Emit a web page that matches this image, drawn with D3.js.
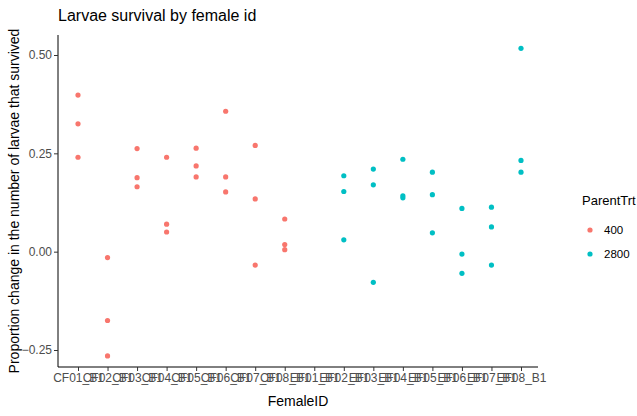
<!DOCTYPE html>
<html><head><meta charset="utf-8">
<script src="https://cdn.jsdelivr.net/npm/d3@7"></script>
<style>body{margin:0;background:#fff}text{font-family:Arial,"Liberation Sans",sans-serif}</style>
</head><body><div id="chart"></div>
<script>
const females = ["CF01_B1","CF02_B1","CF03_B1","CF04_B1","CF05_B1","CF06_B1","CF07_B1","CF08_B1",
                 "EF01_B1","EF02_B1","EF03_B1","EF04_B1","EF05_B1","EF06_B1","EF07_B1","EF08_B1"];
// survival values per female (EF01 has none)
const survival = [
  [0.398,0.325,0.240],[-0.015,-0.175,-0.265],[0.262,0.188,0.165],[0.240,0.070,0.050],
  [0.263,0.218,0.190],[0.357,0.190,0.152],[0.270,0.134,-0.034],[0.083,0.018,0.005],
  [],[0.193,0.153,0.030],[0.210,0.170,-0.078],[0.235,0.142,0.137],
  [0.202,0.145,0.048],[0.110,-0.006,-0.055],[0.113,0.063,-0.034],[0.517,0.232,0.202]
];
const treatments = ["400","2800"];
const trtColors = ["#F8766D","#00BFC4"];
const yTicks = [-0.25,0,0.25,0.5];

const W = 637, H = 416;
const m = {left:58, right:99, top:35, bottom:49};
const svg = d3.select("#chart").append("svg").attr("width",W).attr("height",H);

const x = d3.scalePoint().domain(females).range([78,521]);
const y = d3.scaleLinear().domain([-0.25,0.5]).range([350,55]);

const data = survival.flatMap((vals,i) => vals.map(v => ({id:females[i], v, trt: females[i][0]==="C" ? "400" : "2800"})));
const color = d3.scaleOrdinal().domain(treatments).range(trtColors);

const gx = svg.append("g").attr("transform",`translate(0,${H-m.bottom})`)
  .call(d3.axisBottom(x).tickSize(4).tickPadding(2));
gx.select(".domain").attr("d",`M${m.left},0H${W-m.right}`);
const gy = svg.append("g").attr("transform",`translate(${m.left},0)`)
  .call(d3.axisLeft(y).tickValues(yTicks).tickFormat(d3.format(".2f")).tickSize(4).tickPadding(2));
gy.select(".domain").attr("d",`M0,${m.top}V${H-m.bottom}`);
svg.selectAll(".tick text").attr("fill","#4d4d4d").style("font-size","12px");
svg.selectAll(".tick line").attr("stroke","#333");

svg.append("g").selectAll("circle").data(data).join("circle")
  .attr("cx",d=>x(d.id)).attr("cy",d=>y(d.v)).attr("r",2.6).attr("fill",d=>color(d.trt));

svg.append("text").attr("x",58).attr("y",21).style("font-size","16px").text("Larvae survival by female id");
svg.append("text").attr("x",(m.left+W-m.right)/2).attr("y",406).attr("text-anchor","middle").style("font-size","14px").text("FemaleID");
svg.append("text").attr("transform",`translate(19,${(m.top+H-m.bottom)/2}) rotate(-90)`).attr("text-anchor","middle").style("font-size","14px").text("Proportion change in the number of larvae that survived");

const lg = svg.append("g").attr("transform","translate(582,0)");
lg.append("text").attr("x",0).attr("y",205).style("font-size","13px").text("ParentTrt");
treatments.forEach((t,i) => {
  lg.append("circle").attr("cx",8).attr("cy",230+i*24).attr("r",2.6).attr("fill",color(t));
  lg.append("text").attr("x",22).attr("y",234+i*24).style("font-size","11.5px").text(t);
});
</script></body></html>
